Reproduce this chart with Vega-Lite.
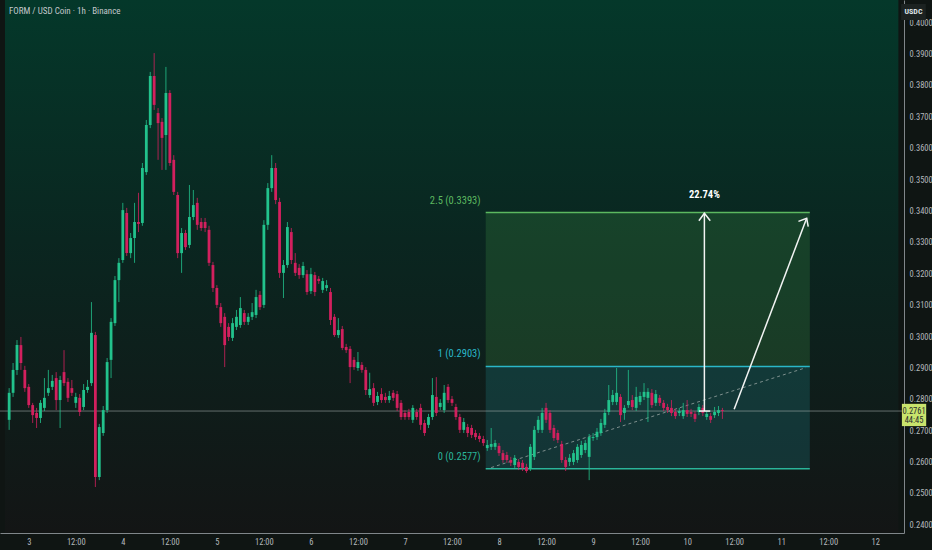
{
  "$schema": "https://vega.github.io/schema/vega-lite/v6.json",
  "width": 904,
  "height": 533,
  "autosize": {"type": "none"},
  "padding": {"left": 0, "top": 0, "right": 28, "bottom": 17},
  "background": "#0f1513",
  "config": {
    "view": {"stroke": null},
    "axis": {
      "grid": false,
      "ticks": false,
      "domainColor": "#80868a",
      "domainWidth": 1,
      "labelColor": "#b4b8bd",
      "labelFontSize": 8.5,
      "labelFont": "Liberation Sans Narrow, Roboto Condensed, DejaVu Sans Condensed, Roboto, sans-serif",
      "labelOverlap": false,
      "labelFlush": false
    },
    "axisY": {"labelOverlap": false, "tickCount": 17}
  },
  "datasets": {
    "candles": [
      {"t": -5, "open": 0.2733, "high": 0.2834, "low": 0.2701, "close": 0.2819},
      {"t": -4, "open": 0.2819, "high": 0.2914, "low": 0.2806, "close": 0.2892},
      {"t": -3, "open": 0.2892, "high": 0.2987, "low": 0.2876, "close": 0.2971},
      {"t": -2, "open": 0.2971, "high": 0.2997, "low": 0.2892, "close": 0.2914},
      {"t": -1, "open": 0.2892, "high": 0.2905, "low": 0.2822, "close": 0.2834},
      {"t": 0, "open": 0.2838, "high": 0.2847, "low": 0.2771, "close": 0.2780},
      {"t": 1, "open": 0.2780, "high": 0.2787, "low": 0.2723, "close": 0.2748},
      {"t": 2, "open": 0.2755, "high": 0.2771, "low": 0.2707, "close": 0.2739},
      {"t": 3, "open": 0.2739, "high": 0.2796, "low": 0.2723, "close": 0.2787},
      {"t": 4, "open": 0.2771, "high": 0.2866, "low": 0.2761, "close": 0.2803},
      {"t": 5, "open": 0.2819, "high": 0.2892, "low": 0.2809, "close": 0.2834},
      {"t": 6, "open": 0.2838, "high": 0.2876, "low": 0.2828, "close": 0.2857},
      {"t": 7, "open": 0.2866, "high": 0.2885, "low": 0.2764, "close": 0.2796},
      {"t": 8, "open": 0.2796, "high": 0.2873, "low": 0.2707, "close": 0.2860},
      {"t": 9, "open": 0.2885, "high": 0.2955, "low": 0.2841, "close": 0.2850},
      {"t": 10, "open": 0.2854, "high": 0.2866, "low": 0.2790, "close": 0.2803},
      {"t": 11, "open": 0.2834, "high": 0.2860, "low": 0.2809, "close": 0.2819},
      {"t": 12, "open": 0.2787, "high": 0.2819, "low": 0.2771, "close": 0.2806},
      {"t": 13, "open": 0.2803, "high": 0.2815, "low": 0.2745, "close": 0.2758},
      {"t": 14, "open": 0.2774, "high": 0.2847, "low": 0.2764, "close": 0.2828},
      {"t": 15, "open": 0.2828, "high": 0.2860, "low": 0.2819, "close": 0.2838},
      {"t": 16, "open": 0.2850, "high": 0.3108, "low": 0.2841, "close": 0.3010},
      {"t": 17, "open": 0.3003, "high": 0.3013, "low": 0.2519, "close": 0.2551},
      {"t": 18, "open": 0.2551, "high": 0.2720, "low": 0.2541, "close": 0.2710},
      {"t": 19, "open": 0.2691, "high": 0.2777, "low": 0.2682, "close": 0.2764},
      {"t": 20, "open": 0.2764, "high": 0.2930, "low": 0.2755, "close": 0.2917},
      {"t": 21, "open": 0.2924, "high": 0.3057, "low": 0.2866, "close": 0.3045},
      {"t": 22, "open": 0.3041, "high": 0.3191, "low": 0.3032, "close": 0.3178},
      {"t": 23, "open": 0.3178, "high": 0.3248, "low": 0.3108, "close": 0.3233},
      {"t": 24, "open": 0.3242, "high": 0.3424, "low": 0.3233, "close": 0.3401},
      {"t": 25, "open": 0.3392, "high": 0.3408, "low": 0.3255, "close": 0.3264},
      {"t": 26, "open": 0.3264, "high": 0.3328, "low": 0.3248, "close": 0.3312},
      {"t": 27, "open": 0.3312, "high": 0.3424, "low": 0.3233, "close": 0.3363},
      {"t": 28, "open": 0.3363, "high": 0.3456, "low": 0.3331, "close": 0.3357},
      {"t": 29, "open": 0.3360, "high": 0.3551, "low": 0.3351, "close": 0.3535},
      {"t": 30, "open": 0.3522, "high": 0.3688, "low": 0.3513, "close": 0.3672},
      {"t": 31, "open": 0.3672, "high": 0.3841, "low": 0.3662, "close": 0.3828},
      {"t": 32, "open": 0.3828, "high": 0.3901, "low": 0.3720, "close": 0.3736},
      {"t": 33, "open": 0.3710, "high": 0.3726, "low": 0.3561, "close": 0.3678},
      {"t": 34, "open": 0.3682, "high": 0.3694, "low": 0.3529, "close": 0.3631},
      {"t": 35, "open": 0.3640, "high": 0.3857, "low": 0.3529, "close": 0.3774},
      {"t": 36, "open": 0.3774, "high": 0.3783, "low": 0.3542, "close": 0.3551},
      {"t": 37, "open": 0.3561, "high": 0.3576, "low": 0.3449, "close": 0.3459},
      {"t": 38, "open": 0.3449, "high": 0.3459, "low": 0.3248, "close": 0.3264},
      {"t": 39, "open": 0.3264, "high": 0.3344, "low": 0.3201, "close": 0.3328},
      {"t": 40, "open": 0.3328, "high": 0.3338, "low": 0.3274, "close": 0.3283},
      {"t": 41, "open": 0.3290, "high": 0.3481, "low": 0.3280, "close": 0.3379},
      {"t": 42, "open": 0.3379, "high": 0.3465, "low": 0.3369, "close": 0.3417},
      {"t": 43, "open": 0.3424, "high": 0.3440, "low": 0.3338, "close": 0.3354},
      {"t": 44, "open": 0.3363, "high": 0.3376, "low": 0.3335, "close": 0.3344},
      {"t": 45, "open": 0.3363, "high": 0.3376, "low": 0.3331, "close": 0.3344},
      {"t": 46, "open": 0.3338, "high": 0.3351, "low": 0.3223, "close": 0.3233},
      {"t": 47, "open": 0.3226, "high": 0.3236, "low": 0.3140, "close": 0.3153},
      {"t": 48, "open": 0.3153, "high": 0.3162, "low": 0.3089, "close": 0.3099},
      {"t": 49, "open": 0.3092, "high": 0.3105, "low": 0.3029, "close": 0.3041},
      {"t": 50, "open": 0.3061, "high": 0.3073, "low": 0.2901, "close": 0.2971},
      {"t": 51, "open": 0.3029, "high": 0.3041, "low": 0.2984, "close": 0.2997},
      {"t": 52, "open": 0.2994, "high": 0.3057, "low": 0.2984, "close": 0.3041},
      {"t": 53, "open": 0.3029, "high": 0.3083, "low": 0.3019, "close": 0.3061},
      {"t": 54, "open": 0.3035, "high": 0.3124, "low": 0.3026, "close": 0.3089},
      {"t": 55, "open": 0.3073, "high": 0.3083, "low": 0.3035, "close": 0.3045},
      {"t": 56, "open": 0.3045, "high": 0.3073, "low": 0.3035, "close": 0.3061},
      {"t": 57, "open": 0.3061, "high": 0.3105, "low": 0.3051, "close": 0.3076},
      {"t": 58, "open": 0.3067, "high": 0.3147, "low": 0.3057, "close": 0.3124},
      {"t": 59, "open": 0.3131, "high": 0.3143, "low": 0.3083, "close": 0.3092},
      {"t": 60, "open": 0.3099, "high": 0.3369, "low": 0.3089, "close": 0.3354},
      {"t": 61, "open": 0.3354, "high": 0.3487, "low": 0.3338, "close": 0.3471},
      {"t": 62, "open": 0.3471, "high": 0.3576, "low": 0.3459, "close": 0.3535},
      {"t": 63, "open": 0.3535, "high": 0.3551, "low": 0.3420, "close": 0.3433},
      {"t": 64, "open": 0.3427, "high": 0.3440, "low": 0.3185, "close": 0.3201},
      {"t": 65, "open": 0.3201, "high": 0.3242, "low": 0.3121, "close": 0.3226},
      {"t": 66, "open": 0.3226, "high": 0.3363, "low": 0.3217, "close": 0.3347},
      {"t": 67, "open": 0.3331, "high": 0.3344, "low": 0.3229, "close": 0.3242},
      {"t": 68, "open": 0.3233, "high": 0.3264, "low": 0.3191, "close": 0.3201},
      {"t": 69, "open": 0.3217, "high": 0.3229, "low": 0.3182, "close": 0.3194},
      {"t": 70, "open": 0.3194, "high": 0.3236, "low": 0.3185, "close": 0.3223},
      {"t": 71, "open": 0.3197, "high": 0.3210, "low": 0.3131, "close": 0.3140},
      {"t": 72, "open": 0.3143, "high": 0.3217, "low": 0.3134, "close": 0.3197},
      {"t": 73, "open": 0.3194, "high": 0.3204, "low": 0.3127, "close": 0.3140},
      {"t": 74, "open": 0.3182, "high": 0.3191, "low": 0.3166, "close": 0.3175},
      {"t": 75, "open": 0.3147, "high": 0.3185, "low": 0.3137, "close": 0.3175},
      {"t": 76, "open": 0.3153, "high": 0.3178, "low": 0.3143, "close": 0.3162},
      {"t": 77, "open": 0.3140, "high": 0.3153, "low": 0.3035, "close": 0.3051},
      {"t": 78, "open": 0.3061, "high": 0.3070, "low": 0.2997, "close": 0.3003},
      {"t": 79, "open": 0.3003, "high": 0.3057, "low": 0.2994, "close": 0.3019},
      {"t": 80, "open": 0.3022, "high": 0.3032, "low": 0.2955, "close": 0.2962},
      {"t": 81, "open": 0.2965, "high": 0.2975, "low": 0.2946, "close": 0.2955},
      {"t": 82, "open": 0.2959, "high": 0.2968, "low": 0.2850, "close": 0.2901},
      {"t": 83, "open": 0.2924, "high": 0.2933, "low": 0.2892, "close": 0.2901},
      {"t": 84, "open": 0.2898, "high": 0.2949, "low": 0.2889, "close": 0.2917},
      {"t": 85, "open": 0.2908, "high": 0.2917, "low": 0.2883, "close": 0.2892},
      {"t": 86, "open": 0.2892, "high": 0.2901, "low": 0.2812, "close": 0.2828},
      {"t": 87, "open": 0.2812, "high": 0.2883, "low": 0.2803, "close": 0.2831},
      {"t": 88, "open": 0.2834, "high": 0.2850, "low": 0.2777, "close": 0.2787},
      {"t": 89, "open": 0.2790, "high": 0.2822, "low": 0.2780, "close": 0.2809},
      {"t": 90, "open": 0.2815, "high": 0.2834, "low": 0.2787, "close": 0.2796},
      {"t": 91, "open": 0.2806, "high": 0.2819, "low": 0.2787, "close": 0.2796},
      {"t": 92, "open": 0.2796, "high": 0.2825, "low": 0.2787, "close": 0.2809},
      {"t": 93, "open": 0.2819, "high": 0.2828, "low": 0.2793, "close": 0.2803},
      {"t": 94, "open": 0.2815, "high": 0.2825, "low": 0.2761, "close": 0.2771},
      {"t": 95, "open": 0.2787, "high": 0.2796, "low": 0.2733, "close": 0.2742},
      {"t": 96, "open": 0.2755, "high": 0.2764, "low": 0.2733, "close": 0.2742},
      {"t": 97, "open": 0.2758, "high": 0.2768, "low": 0.2733, "close": 0.2742},
      {"t": 98, "open": 0.2733, "high": 0.2780, "low": 0.2723, "close": 0.2771},
      {"t": 99, "open": 0.2758, "high": 0.2768, "low": 0.2733, "close": 0.2742},
      {"t": 100, "open": 0.2771, "high": 0.2784, "low": 0.2701, "close": 0.2717},
      {"t": 101, "open": 0.2723, "high": 0.2733, "low": 0.2682, "close": 0.2691},
      {"t": 102, "open": 0.2717, "high": 0.2752, "low": 0.2707, "close": 0.2742},
      {"t": 103, "open": 0.2742, "high": 0.2866, "low": 0.2733, "close": 0.2812},
      {"t": 104, "open": 0.2806, "high": 0.2869, "low": 0.2745, "close": 0.2755},
      {"t": 105, "open": 0.2774, "high": 0.2799, "low": 0.2764, "close": 0.2787},
      {"t": 106, "open": 0.2764, "high": 0.2844, "low": 0.2755, "close": 0.2819},
      {"t": 107, "open": 0.2838, "high": 0.2847, "low": 0.2787, "close": 0.2796},
      {"t": 108, "open": 0.2799, "high": 0.2809, "low": 0.2777, "close": 0.2787},
      {"t": 109, "open": 0.2774, "high": 0.2784, "low": 0.2733, "close": 0.2742},
      {"t": 110, "open": 0.2742, "high": 0.2752, "low": 0.2691, "close": 0.2701},
      {"t": 111, "open": 0.2701, "high": 0.2739, "low": 0.2691, "close": 0.2726},
      {"t": 112, "open": 0.2710, "high": 0.2720, "low": 0.2678, "close": 0.2691},
      {"t": 113, "open": 0.2707, "high": 0.2717, "low": 0.2675, "close": 0.2685},
      {"t": 114, "open": 0.2691, "high": 0.2701, "low": 0.2669, "close": 0.2678},
      {"t": 115, "open": 0.2682, "high": 0.2691, "low": 0.2662, "close": 0.2672},
      {"t": 116, "open": 0.2672, "high": 0.2682, "low": 0.2650, "close": 0.2659},
      {"t": 117, "open": 0.2643, "high": 0.2669, "low": 0.2634, "close": 0.2653},
      {"t": 118, "open": 0.2647, "high": 0.2707, "low": 0.2637, "close": 0.2656},
      {"t": 119, "open": 0.2647, "high": 0.2669, "low": 0.2637, "close": 0.2659},
      {"t": 120, "open": 0.2650, "high": 0.2659, "low": 0.2618, "close": 0.2627},
      {"t": 121, "open": 0.2627, "high": 0.2637, "low": 0.2596, "close": 0.2605},
      {"t": 122, "open": 0.2621, "high": 0.2631, "low": 0.2596, "close": 0.2605},
      {"t": 123, "open": 0.2605, "high": 0.2615, "low": 0.2586, "close": 0.2596},
      {"t": 124, "open": 0.2589, "high": 0.2621, "low": 0.2580, "close": 0.2612},
      {"t": 125, "open": 0.2599, "high": 0.2608, "low": 0.2573, "close": 0.2583},
      {"t": 126, "open": 0.2596, "high": 0.2605, "low": 0.2570, "close": 0.2580},
      {"t": 127, "open": 0.2583, "high": 0.2593, "low": 0.2564, "close": 0.2570},
      {"t": 128, "open": 0.2577, "high": 0.2656, "low": 0.2570, "close": 0.2647},
      {"t": 129, "open": 0.2615, "high": 0.2713, "low": 0.2605, "close": 0.2701},
      {"t": 130, "open": 0.2701, "high": 0.2745, "low": 0.2691, "close": 0.2733},
      {"t": 131, "open": 0.2701, "high": 0.2771, "low": 0.2691, "close": 0.2755},
      {"t": 132, "open": 0.2771, "high": 0.2787, "low": 0.2723, "close": 0.2733},
      {"t": 133, "open": 0.2755, "high": 0.2764, "low": 0.2691, "close": 0.2701},
      {"t": 134, "open": 0.2707, "high": 0.2717, "low": 0.2666, "close": 0.2675},
      {"t": 135, "open": 0.2691, "high": 0.2701, "low": 0.2659, "close": 0.2669},
      {"t": 136, "open": 0.2656, "high": 0.2666, "low": 0.2596, "close": 0.2605},
      {"t": 137, "open": 0.2605, "high": 0.2615, "low": 0.2570, "close": 0.2583},
      {"t": 138, "open": 0.2599, "high": 0.2624, "low": 0.2586, "close": 0.2612},
      {"t": 139, "open": 0.2599, "high": 0.2637, "low": 0.2589, "close": 0.2627},
      {"t": 140, "open": 0.2605, "high": 0.2656, "low": 0.2596, "close": 0.2647},
      {"t": 141, "open": 0.2621, "high": 0.2666, "low": 0.2612, "close": 0.2653},
      {"t": 142, "open": 0.2637, "high": 0.2669, "low": 0.2627, "close": 0.2659},
      {"t": 143, "open": 0.2615, "high": 0.2688, "low": 0.2541, "close": 0.2678},
      {"t": 144, "open": 0.2675, "high": 0.2691, "low": 0.2666, "close": 0.2678},
      {"t": 145, "open": 0.2678, "high": 0.2707, "low": 0.2669, "close": 0.2695},
      {"t": 146, "open": 0.2691, "high": 0.2736, "low": 0.2682, "close": 0.2723},
      {"t": 147, "open": 0.2717, "high": 0.2768, "low": 0.2707, "close": 0.2755},
      {"t": 148, "open": 0.2758, "high": 0.2844, "low": 0.2748, "close": 0.2796},
      {"t": 149, "open": 0.2790, "high": 0.2828, "low": 0.2780, "close": 0.2812},
      {"t": 150, "open": 0.2790, "high": 0.2898, "low": 0.2780, "close": 0.2819},
      {"t": 151, "open": 0.2806, "high": 0.2815, "low": 0.2726, "close": 0.2748},
      {"t": 152, "open": 0.2755, "high": 0.2780, "low": 0.2733, "close": 0.2771},
      {"t": 153, "open": 0.2780, "high": 0.2892, "low": 0.2771, "close": 0.2793},
      {"t": 154, "open": 0.2796, "high": 0.2812, "low": 0.2764, "close": 0.2774},
      {"t": 155, "open": 0.2771, "high": 0.2838, "low": 0.2761, "close": 0.2806},
      {"t": 156, "open": 0.2790, "high": 0.2822, "low": 0.2780, "close": 0.2809},
      {"t": 157, "open": 0.2806, "high": 0.2850, "low": 0.2796, "close": 0.2822},
      {"t": 158, "open": 0.2803, "high": 0.2834, "low": 0.2726, "close": 0.2822},
      {"t": 159, "open": 0.2819, "high": 0.2831, "low": 0.2771, "close": 0.2780},
      {"t": 160, "open": 0.2787, "high": 0.2828, "low": 0.2777, "close": 0.2815},
      {"t": 161, "open": 0.2803, "high": 0.2812, "low": 0.2777, "close": 0.2787},
      {"t": 162, "open": 0.2787, "high": 0.2796, "low": 0.2761, "close": 0.2771},
      {"t": 163, "open": 0.2774, "high": 0.2784, "low": 0.2755, "close": 0.2764},
      {"t": 164, "open": 0.2771, "high": 0.2796, "low": 0.2745, "close": 0.2755},
      {"t": 165, "open": 0.2758, "high": 0.2768, "low": 0.2736, "close": 0.2745},
      {"t": 166, "open": 0.2755, "high": 0.2771, "low": 0.2745, "close": 0.2761},
      {"t": 167, "open": 0.2745, "high": 0.2787, "low": 0.2736, "close": 0.2764},
      {"t": 168, "open": 0.2764, "high": 0.2796, "low": 0.2742, "close": 0.2752},
      {"t": 169, "open": 0.2758, "high": 0.2768, "low": 0.2742, "close": 0.2752},
      {"t": 170, "open": 0.2752, "high": 0.2761, "low": 0.2726, "close": 0.2736},
      {"t": 171, "open": 0.2758, "high": 0.2784, "low": 0.2748, "close": 0.2774},
      {"t": 172, "open": 0.2771, "high": 0.2780, "low": 0.2745, "close": 0.2755},
      {"t": 173, "open": 0.2742, "high": 0.2761, "low": 0.2733, "close": 0.2752},
      {"t": 174, "open": 0.2745, "high": 0.2755, "low": 0.2723, "close": 0.2733},
      {"t": 175, "open": 0.2748, "high": 0.2774, "low": 0.2739, "close": 0.2758},
      {"t": 176, "open": 0.2755, "high": 0.2777, "low": 0.2745, "close": 0.2764},
      {"t": 177, "open": 0.2764, "high": 0.2771, "low": 0.2736, "close": 0.2761}
    ]
  },
  "layer": [
    {
      "data": {"values": [{"x0": -6.06, "x1": 221.9, "y0": 0.2374, "y1": 0.40701}]},
      "mark": {
        "type": "rect",
        "fill": {
          "gradient": "linear", "x1": 0, "y1": 0, "x2": 0, "y2": 1,
          "stops": [
            {"offset": 0, "color": "#04382a"},
            {"offset": 0.45, "color": "#0a2620"},
            {"offset": 1, "color": "#131515"}
          ]
        }
      },
      "encoding": {
        "x": {"field": "x0", "type": "quantitative", "title": null, "scale": {"domain": [-6.06, 222.06], "nice": false, "zero": false},
          "axis": {"values": [0, 12, 24, 36, 48, 60, 72, 84, 96, 108, 120, 132, 144, 156, 168, 180, 192, 204, 216],
            "labelExpr": "datum.value % 24 == 0 ? format(datum.value / 24 + 3, 'd') : '12:00'", "labelPadding": 4, "labelOverlap": false}},
        "x2": {"field": "x1"},
        "y": {"field": "y0", "type": "quantitative", "title": null, "scale": {"domain": [0.23726, 0.40701], "nice": false, "zero": false},
          "axis": {"orient": "right", "format": ".4f", "labelPadding": 5, "labelOverlap": false, "tickCount": 17,
            "values": [0.24, 0.25, 0.26, 0.27, 0.28, 0.29, 0.3, 0.31, 0.32, 0.33, 0.34, 0.35, 0.36, 0.37, 0.38, 0.39, 0.4]}},
        "y2": {"field": "y1"}
      }
    },
    {
      "data": {"values": [
        {"zone": "target", "x0": 116.6, "x1": 199.3, "lo": 0.2903, "hi": 0.3393},
        {"zone": "stop", "x0": 116.6, "x1": 199.3, "lo": 0.2577, "hi": 0.2903}
      ]},
      "mark": {"type": "rect", "opacity": 0.2},
      "encoding": {
        "x": {"field": "x0", "type": "quantitative", "title": null},
        "x2": {"field": "x1"},
        "y": {"field": "lo", "type": "quantitative", "title": null},
        "y2": {"field": "hi"},
        "color": {"field": "zone", "type": "nominal", "legend": null,
          "scale": {"domain": ["target", "stop", "l25", "l1", "l0"], "range": ["#4caf50", "#22a7b0", "#5cb860", "#2ab6c8", "#2ab59a"]}}
      }
    },
    {
      "data": {"values": [
        {"k": "l25", "x0": 116.6, "x1": 199.3, "y": 0.3393},
        {"k": "l1", "x0": 116.6, "x1": 199.3, "y": 0.2903},
        {"k": "l0", "x0": 116.6, "x1": 199.3, "y": 0.2577}
      ]},
      "mark": {"type": "rule", "strokeWidth": 1.5},
      "encoding": {
        "x": {"field": "x0", "type": "quantitative", "title": null},
        "x2": {"field": "x1"},
        "y": {"field": "y", "type": "quantitative", "title": null},
        "color": {"field": "k", "type": "nominal", "legend": null}
      }
    },
    {
      "data": {"values": [
        {"k": "l25", "x": 115.3, "y": 0.3430, "label": "2.5 (0.3393)"},
        {"k": "l1", "x": 115.3, "y": 0.2943, "label": "1 (0.2903)"},
        {"k": "l0", "x": 115.3, "y": 0.2616, "label": "0 (0.2577)"}
      ]},
      "mark": {"type": "text", "align": "right", "baseline": "middle", "fontSize": 10.5, "font": "Liberation Sans Narrow, Roboto Condensed, DejaVu Sans Condensed, Roboto, sans-serif"},
      "encoding": {
        "x": {"field": "x", "type": "quantitative", "title": null},
        "y": {"field": "y", "type": "quantitative", "title": null},
        "text": {"field": "label"},
        "color": {"field": "k", "type": "nominal", "legend": null}
      }
    },
    {
      "data": {"values": [{"price": 0.2761}]},
      "mark": {"type": "rule", "color": "#a9b2ae", "opacity": 0.55, "strokeWidth": 1},
      "encoding": {
        "y": {"field": "price", "type": "quantitative", "title": null}
      }
    },
    {
      "data": {"values": [{"x": 118.0, "y": 0.2581}, {"x": 198.3, "y": 0.2899}]},
      "mark": {"type": "line", "color": "#aab3b1", "opacity": 0.7, "strokeWidth": 1, "strokeDash": [3, 3]},
      "encoding": {
        "x": {"field": "x", "type": "quantitative", "title": null},
        "y": {"field": "y", "type": "quantitative", "title": null}
      }
    },
    {
      "data": {"name": "candles"},
      "mark": {"type": "rule", "strokeWidth": 1, "opacity": 0.8},
      "encoding": {
        "x": {"field": "t", "type": "quantitative", "title": null},
        "y": {"field": "low", "type": "quantitative", "title": null},
        "y2": {"field": "high"},
        "color": {"condition": {"test": "datum.close >= datum.open", "value": "#22c28c"}, "value": "#d2205e"}
      }
    },
    {
      "data": {"name": "candles"},
      "mark": {"type": "bar", "width": 2.8},
      "encoding": {
        "x": {"field": "t", "type": "quantitative", "title": null},
        "y": {"field": "open", "type": "quantitative", "title": null},
        "y2": {"field": "close"},
        "color": {"condition": {"test": "datum.close >= datum.open", "value": "#22c28c"}, "value": "#d2205e"}
      }
    },
    {
      "data": {"values": [
        {"seg": "v", "o": 0, "x": 172.4, "y": 0.2761},
        {"seg": "v", "o": 1, "x": 172.4, "y": 0.3391},
        {"seg": "vb", "o": 0, "x": 171.0, "y": 0.2761},
        {"seg": "vb", "o": 1, "x": 173.9, "y": 0.2761},
        {"seg": "vh", "o": 0, "x": 171.0, "y": 0.3367},
        {"seg": "vh", "o": 1, "x": 172.4, "y": 0.3391},
        {"seg": "vh", "o": 2, "x": 173.9, "y": 0.3367},
        {"seg": "d", "o": 0, "x": 180.0, "y": 0.2767},
        {"seg": "d", "o": 1, "x": 198.5, "y": 0.3375},
        {"seg": "dh", "o": 0, "x": 196.4, "y": 0.3365},
        {"seg": "dh", "o": 1, "x": 198.5, "y": 0.3375},
        {"seg": "dh", "o": 2, "x": 198.9, "y": 0.3348}
      ]},
      "mark": {"type": "line", "color": "#f2f4f3", "strokeWidth": 1.5},
      "encoding": {
        "x": {"field": "x", "type": "quantitative", "title": null},
        "y": {"field": "y", "type": "quantitative", "title": null},
        "detail": {"field": "seg"},
        "order": {"field": "o"}
      }
    },
    {
      "data": {"values": [{"x": 172.4, "y": 0.3449, "label": "22.74%"}]},
      "mark": {"type": "text", "color": "#ffffff", "fontSize": 10.5, "fontWeight": "bold", "align": "center", "baseline": "middle", "font": "Liberation Sans Narrow, Roboto Condensed, DejaVu Sans Condensed, Roboto, sans-serif"},
      "encoding": {
        "x": {"field": "x", "type": "quantitative", "title": null},
        "y": {"field": "y", "type": "quantitative", "title": null},
        "text": {"field": "label"}
      }
    },
    {
      "data": {"values": [{"x": -5.05, "y": 0.4035, "label": "FORM / USD Coin · 1h · Binance"}]},
      "mark": {"type": "text", "color": "#c3c7cb", "fontSize": 9, "align": "left", "baseline": "middle", "font": "Liberation Sans Narrow, Roboto Condensed, DejaVu Sans Condensed, Roboto, sans-serif"},
      "encoding": {
        "x": {"field": "x", "type": "quantitative", "title": null},
        "y": {"field": "y", "type": "quantitative", "title": null},
        "text": {"field": "label"}
      }
    },
    {
      "data": {"values": [
        {"tag": "price", "x0": 222.8, "x1": 229.0, "y0": 0.2713, "y1": 0.2784},
        {"tag": "unit", "x0": 222.6, "x1": 228.9, "y0": 0.40064, "y1": 0.40574}
      ]},
      "mark": {"type": "rect"},
      "encoding": {
        "x": {"field": "x0", "type": "quantitative", "title": null},
        "x2": {"field": "x1"},
        "y": {"field": "y0", "type": "quantitative", "title": null},
        "y2": {"field": "y1"},
        "fill": {"field": "tag", "type": "nominal", "legend": null, "scale": {"domain": ["price", "unit"], "range": ["#c9e36c", "#1c2221"]}}
      }
    },
    {
      "data": {"values": [
        {"tag": "price", "x": 225.9, "y": 0.2762, "label": "0.2761"},
        {"tag": "price", "x": 225.9, "y": 0.2731, "label": "44:45"}
      ]},
      "mark": {"type": "text", "color": "#2a2e2c", "fontSize": 8.5, "align": "center", "baseline": "middle", "font": "Liberation Sans Narrow, Roboto Condensed, DejaVu Sans Condensed, Roboto, sans-serif"},
      "encoding": {
        "x": {"field": "x", "type": "quantitative", "title": null},
        "y": {"field": "y", "type": "quantitative", "title": null},
        "text": {"field": "label"}
      }
    },
    {
      "data": {"values": [{"x": 225.75, "y": 0.40319, "label": "USDC"}]},
      "mark": {"type": "text", "color": "#dfe2e6", "fontSize": 8, "fontWeight": "bold", "align": "center", "baseline": "middle", "font": "Liberation Sans Narrow, Roboto Condensed, DejaVu Sans Condensed, Roboto, sans-serif"},
      "encoding": {
        "x": {"field": "x", "type": "quantitative", "title": null},
        "y": {"field": "y", "type": "quantitative", "title": null},
        "text": {"field": "label"}
      }
    }
  ]
}
